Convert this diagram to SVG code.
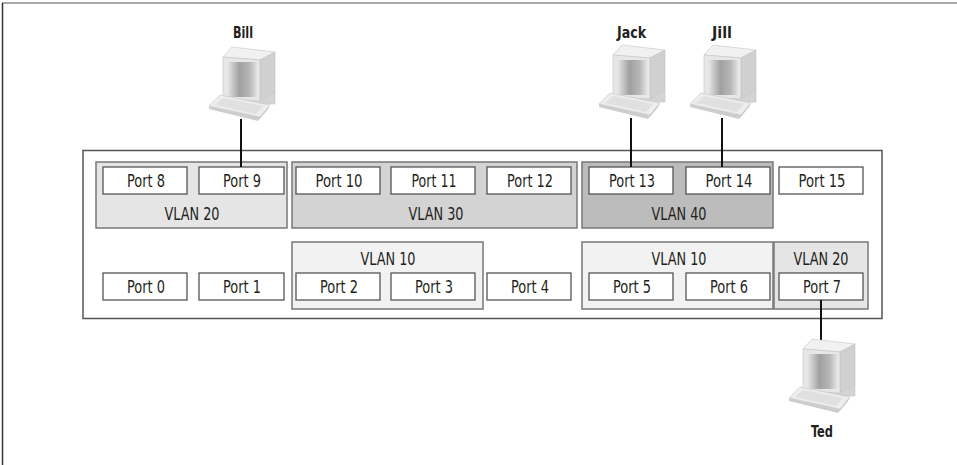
<svg xmlns="http://www.w3.org/2000/svg" xmlns:xlink="http://www.w3.org/1999/xlink" width="957" height="465" viewBox="0 0 957 465">
<style>
text{font-family:"Liberation Sans Narrow","DejaVu Sans Condensed","Liberation Sans",sans-serif;fill:#231f20;text-anchor:middle}
.port rect{fill:#fff;stroke:#555;stroke-width:1.3}
.port text{font-size:17px}
.vlan{stroke:#777;stroke-width:1.5}
.vl{font-size:17px}
.name{font-size:16px;font-weight:bold}
.wire{stroke:#111;stroke-width:2;fill:none}
.e{stroke:#c4c4c4;stroke-width:0.6}
</style>
<defs>
<linearGradient id="scr" x1="0" y1="0" x2="1" y2="0">
<stop offset="0" stop-color="#e4e4e4"/>
<stop offset="0.4" stop-color="#a0a0a0"/>
<stop offset="0.75" stop-color="#b8b8b8"/>
<stop offset="1" stop-color="#e2e2e2"/>
</linearGradient>
<g id="pc">
<polygon class="e" points="42,58 75,51 75,64 42,64" fill="#d4d4d4"/>
<polygon class="e" points="23,17 32,7 75,12 60,20" fill="#f1f1f1"/>
<polygon class="e" points="60,20 75,12 75,52 60,61" fill="#d0d0d0"/>
<polygon class="e" points="23,17 60,20 60,61 23,59" fill="#e7e7e7"/>
<rect x="28" y="22" width="29" height="35" fill="url(#scr)"/>
<polygon points="9,66 60,77 58,81 9,69" fill="#cdcdcd"/>
<polygon points="60,77 70,65 68,69 58,81" fill="#bcbcbc"/>
<polygon class="e" points="20,55 70,65 60,77 9,66" fill="#ededed"/>
<polygon points="23,58 63,66 56,74 15,65" fill="#e0e0e0"/>
</g>
</defs>
<rect width="957" height="465" fill="#fff"/>
<line x1="2" y1="3" x2="957" y2="3" stroke="#8c8c8c" stroke-width="1.5"/>
<line x1="2.5" y1="3" x2="2.5" y2="465" stroke="#333" stroke-width="1.5"/>
<g id="switch">
<rect x="83" y="150.5" width="799" height="168" fill="#fff" stroke="#555" stroke-width="1.5"/>
</g>
<g id="vlan20a"><rect class="vlan" x="96" y="162" width="191" height="66" fill="#e5e5e5"/><text class="vl" x="192" y="220" textLength="55" lengthAdjust="spacingAndGlyphs">VLAN 20</text></g>
<g id="vlan30"><rect class="vlan" x="292" y="162" width="285" height="66" fill="#d3d3d3"/><text class="vl" x="436" y="220" textLength="55" lengthAdjust="spacingAndGlyphs">VLAN 30</text></g>
<g id="vlan40"><rect class="vlan" x="582" y="162" width="191" height="66" fill="#bcbcbc"/><text class="vl" x="679" y="220" textLength="55" lengthAdjust="spacingAndGlyphs">VLAN 40</text></g>
<g id="vlan10a"><rect class="vlan" x="292" y="242" width="191" height="67" fill="#f2f2f2"/><text class="vl" x="388" y="264.5" textLength="55" lengthAdjust="spacingAndGlyphs">VLAN 10</text></g>
<g id="vlan10b"><rect class="vlan" x="582" y="242" width="191" height="67" fill="#f2f2f2"/><text class="vl" x="679" y="264.5" textLength="55" lengthAdjust="spacingAndGlyphs">VLAN 10</text></g>
<g id="vlan20b"><rect class="vlan" x="774" y="242" width="94" height="67" fill="#e5e5e5"/><text class="vl" x="821" y="264.5" textLength="55" lengthAdjust="spacingAndGlyphs">VLAN 20</text></g>
<g id="port8" class="port"><rect x="103" y="167" width="84" height="27"/><text x="146" y="187" textLength="38" lengthAdjust="spacingAndGlyphs">Port 8</text></g>
<g id="port9" class="port"><rect x="199" y="167" width="85" height="27"/><text x="242" y="187" textLength="38" lengthAdjust="spacingAndGlyphs">Port 9</text></g>
<g id="port10" class="port"><rect x="296" y="167" width="84" height="27"/><text x="339" y="187" textLength="47" lengthAdjust="spacingAndGlyphs">Port 10</text></g>
<g id="port11" class="port"><rect x="391" y="167" width="84" height="27"/><text x="434" y="187" textLength="45" lengthAdjust="spacingAndGlyphs">Port 11</text></g>
<g id="port12" class="port"><rect x="487" y="167" width="84" height="27"/><text x="530" y="187" textLength="46" lengthAdjust="spacingAndGlyphs">Port 12</text></g>
<g id="port13" class="port"><rect x="589" y="167" width="84" height="27"/><text x="632" y="187" textLength="46" lengthAdjust="spacingAndGlyphs">Port 13</text></g>
<g id="port14" class="port"><rect x="686" y="167" width="84" height="27"/><text x="729" y="187" textLength="47" lengthAdjust="spacingAndGlyphs">Port 14</text></g>
<g id="port15" class="port"><rect x="779" y="167" width="84" height="27"/><text x="822" y="187" textLength="47" lengthAdjust="spacingAndGlyphs">Port 15</text></g>
<g id="port0" class="port"><rect x="103" y="273" width="84" height="27"/><text x="146" y="293" textLength="38" lengthAdjust="spacingAndGlyphs">Port 0</text></g>
<g id="port1" class="port"><rect x="199" y="273" width="85" height="27"/><text x="242" y="293" textLength="38" lengthAdjust="spacingAndGlyphs">Port 1</text></g>
<g id="port2" class="port"><rect x="296" y="273" width="84" height="27"/><text x="339" y="293" textLength="38" lengthAdjust="spacingAndGlyphs">Port 2</text></g>
<g id="port3" class="port"><rect x="391" y="273" width="84" height="27"/><text x="434" y="293" textLength="38" lengthAdjust="spacingAndGlyphs">Port 3</text></g>
<g id="port4" class="port"><rect x="487" y="273" width="84" height="27"/><text x="530" y="293" textLength="38" lengthAdjust="spacingAndGlyphs">Port 4</text></g>
<g id="port5" class="port"><rect x="589" y="273" width="84" height="27"/><text x="632" y="293" textLength="38" lengthAdjust="spacingAndGlyphs">Port 5</text></g>
<g id="port6" class="port"><rect x="686" y="273" width="84" height="27"/><text x="729" y="293" textLength="38" lengthAdjust="spacingAndGlyphs">Port 6</text></g>
<g id="port7" class="port"><rect x="779" y="273" width="84" height="27"/><text x="822" y="293" textLength="38" lengthAdjust="spacingAndGlyphs">Port 7</text></g>
<g id="connectors">
<line class="wire" x1="241" y1="119" x2="241" y2="167"/>
<line class="wire" x1="631" y1="118" x2="631" y2="167"/>
<line class="wire" x1="722" y1="118" x2="722" y2="167"/>
<line class="wire" x1="821" y1="300" x2="821" y2="341"/>
</g>
<g id="bill"><use xlink:href="#pc" x="200" y="40"/><text class="name" x="243" y="38" textLength="20" lengthAdjust="spacingAndGlyphs">Bill</text></g>
<g id="jack"><use xlink:href="#pc" x="590" y="38"/><text class="name" x="631.5" y="38" textLength="29" lengthAdjust="spacingAndGlyphs">Jack</text></g>
<g id="jill"><use xlink:href="#pc" x="681" y="38"/><text class="name" x="722" y="38" textLength="20" lengthAdjust="spacingAndGlyphs">Jill</text></g>
<g id="ted"><use xlink:href="#pc" x="780" y="332"/><text class="name" x="822" y="437" textLength="22" lengthAdjust="spacingAndGlyphs">Ted</text></g>
</svg>
